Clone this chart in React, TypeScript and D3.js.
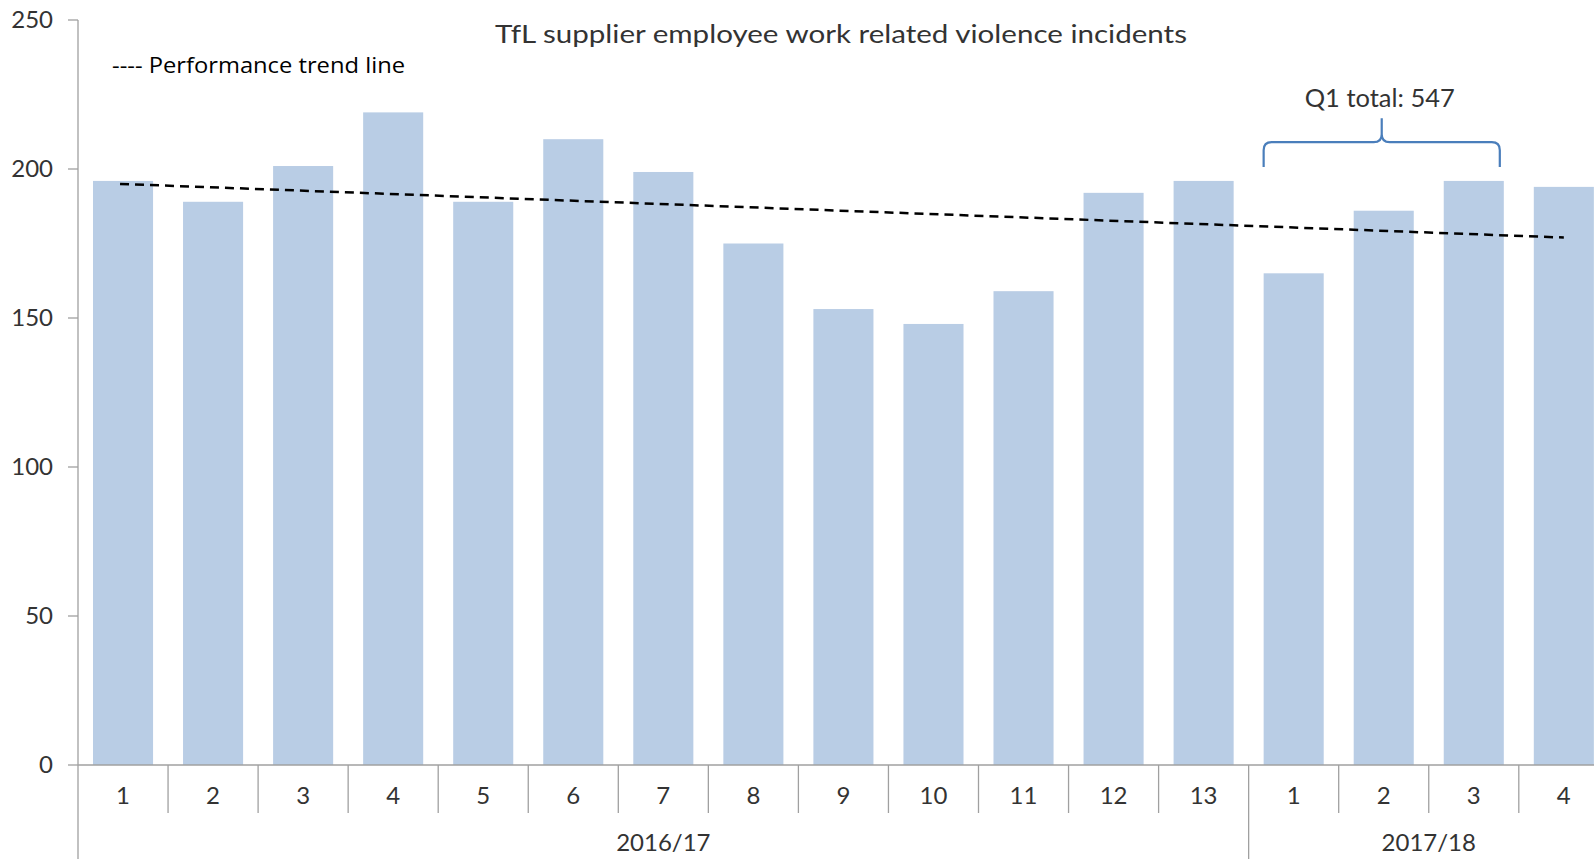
import React from "react";
import * as d3 from "d3";

const months = ["1","2","3","4","5","6","7","8","9","10","11","12","13","1","2","3","4"];
const years = ["2016/17","2017/18"];
const yearOf = [0,0,0,0,0,0,0,0,0,0,0,0,0,1,1,1,1];
const incidents = [196,189,201,219,189,210,199,175,153,148,159,192,196,165,186,196,194];
const trendEnds = [195, 177];
const yTicks = [0,50,100,150,200,250];
const title = "TfL supplier employee work related violence incidents";
const legendText = "---- Performance trend line";
const q1Label = "Q1 total: 547";

const W = 1594, H = 859;
const x0 = 78, band = 90.05;
const keys = months.map((m, i) => `${i}`);

export default function App() {
  const x = d3.scaleBand<string>().domain(keys).range([x0, x0 + band * keys.length]).paddingInner(0.333).paddingOuter(0.1665);
  const bw = x.bandwidth();
  const y = d3.scaleLinear().domain([0, 250]).range([765, 20]);
  const step = x.step();
  const bandStart = (i: number) => x0 + i * step;
  const axisColor = "#a0a0a0";
  const textColor = "#333";
  const font = "Lato, 'Noto Sans', sans-serif";

  const trendLine = d3.line<[number, number]>().x(d => d[0]).y(d => d[1]);
  const tPts: [number, number][] = [
    [x(keys[0])! + bw / 2 - 3, y(trendEnds[0])],
    [x(keys[keys.length - 1])! + bw / 2, y(trendEnds[1])],
  ];

  // year group boundaries
  const yearStarts = years.map((_, g) => yearOf.indexOf(g));
  const yearEnds = years.map((_, g) => yearOf.lastIndexOf(g) + 1);

  // bracket
  const bl = x(keys[13])!;
  const br = x(keys[15])! + bw - 4;
  const bm = (bl + br) / 2;
  const yb = y(200.7), yh = y(209), yp = y(217);
  const r = 8;
  const bracket = `M${bl},${yb} V${yh + r} Q${bl},${yh} ${bl + r},${yh} H${bm - r} Q${bm},${yh} ${bm},${yh - r} V${yp} M${bm},${yh - r} Q${bm},${yh} ${bm + r},${yh} H${br - r} Q${br},${yh} ${br},${yh + r} V${yb}`;

  return (
    <svg width={W} height={H} style={{ position: "absolute", left: 0, top: 0, background: "#fff" }}>
      {/* bars */}
      {incidents.map((v, i) => (
        <rect key={i} x={x(keys[i])} y={y(v)} width={bw} height={y(0) - y(v)} fill="#b9cde5" />
      ))}
      {/* y axis */}
      <line x1={x0} x2={x0} y1={y(250)} y2={H} stroke={axisColor} strokeWidth={1.3} />
      {yTicks.map(t => (
        <g key={t}>
          <line x1={x0 - 10} x2={x0} y1={y(t)} y2={y(t)} stroke={axisColor} strokeWidth={1.3} />
          <text x={53} y={y(t) + 8} textAnchor="end" fontFamily={font} fontSize={24} fill={textColor}>{t}</text>
        </g>
      ))}
      {/* x axis */}
      <line x1={x0} x2={W} y1={y(0)} y2={y(0)} stroke={axisColor} strokeWidth={1.3} />
      {months.map((m, i) => (
        <g key={i}>
          {i > 0 && !yearStarts.includes(i) && (
            <line x1={bandStart(i)} x2={bandStart(i)} y1={y(0)} y2={813} stroke={axisColor} strokeWidth={1.3} />
          )}
          <text x={bandStart(i) + step / 2} y={804} textAnchor="middle" fontFamily={font} fontSize={24} fill={textColor}>{m}</text>
        </g>
      ))}
      {yearStarts.map((s, g) => g > 0 && (
        <line key={g} x1={bandStart(s)} x2={bandStart(s)} y1={y(0)} y2={H} stroke={axisColor} strokeWidth={1.3} />
      ))}
      {years.map((yr, g) => (
        <text key={yr} x={(bandStart(yearStarts[g]) + bandStart(yearEnds[g])) / 2} y={851} textAnchor="middle" fontFamily={font} fontSize={24} fill={textColor}>{yr}</text>
      ))}
      {/* trend */}
      <path d={trendLine(tPts)!} stroke="#000" strokeWidth={2.5} strokeDasharray="9,6" fill="none" />
      {/* title */}
      <text x={841} y={43} textAnchor="middle" fontFamily={font} fontSize={25} fill={textColor} textLength={692} lengthAdjust="spacingAndGlyphs">{title}</text>
      {/* legend */}
      <text x={112} y={73} fontFamily="'Open Sans', 'Noto Sans', sans-serif" fontSize={22} fill="#000" textLength={293} lengthAdjust="spacingAndGlyphs">{legendText}</text>
      {/* bracket */}
      <path d={bracket} stroke="#4a7ebb" strokeWidth={2.2} fill="none" />
      <text x={bm - 2} y={107} textAnchor="middle" fontFamily={font} fontSize={25} fill={textColor} textLength={150} lengthAdjust="spacingAndGlyphs">{q1Label}</text>
    </svg>
  );
}
